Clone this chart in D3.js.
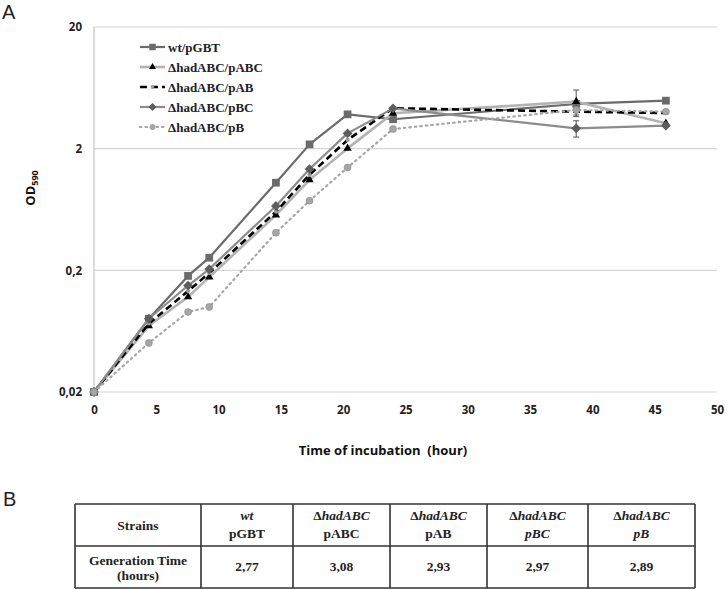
<!DOCTYPE html>
<html>
<head>
<meta charset="utf-8">
<script src="https://cdn.jsdelivr.net/npm/d3@7"></script>
<style>
  html, body { margin: 0; padding: 0; background: #fff; }
  svg { display: block; }
</style>
</head>
<body>
<svg id="chart" width="727" height="590"></svg>
<script>
// ---------- data ----------
const hours = [0, 4.4, 7.55, 9.25, 14.6, 17.3, 20.35, 24, 38.7, 45.9];
const wt_pGBT   = [0.02, 0.080, 0.180, 0.254, 1.05, 2.17, 3.83, 3.49, 4.66, 4.96];
const had_pABC  = [0.02, 0.070, 0.121, 0.176, 0.570, 1.11, 2.01, 3.91, 4.87, 3.23];
const had_pAB   = [0.02, 0.073, 0.135, 0.190, 0.607, 1.22, 2.36, 4.30, 4.03, 3.93];
const had_pBC   = [0.02, 0.080, 0.150, 0.205, 0.676, 1.36, 2.67, 4.29, 2.94, 3.09];
const had_pB    = [0.02, 0.0506, 0.091, 0.100, 0.407, 0.747, 1.40, 2.90, 4.16, 4.03];
// error bars (only visible ones, at 38.7 h)
const err_pABC  = [0, 0, 0, 0, 0, 0, 0, 0, 1.2, 0];
const err_pAB   = [0, 0, 0, 0, 0, 0, 0, 0, 0.25, 0];
const err_pBC   = [0, 0, 0, 0, 0, 0, 0, 0, 0.45, 0];
const seriesNames = ["wt/pGBT", "\u0394hadABC/pABC", "\u0394hadABC/pAB", "\u0394hadABC/pBC", "\u0394hadABC/pB"];
const yTicks = [0.02, 0.2, 2, 20];
const yTickLabels = ["0,02", "0,2", "2", "20"];
const xTicks = [0, 5, 10, 15, 20, 25, 30, 35, 40, 45, 50];

// table
const tableHead1 = ["Strains", "wt", "\u0394hadABC", "\u0394hadABC", "\u0394hadABC", "\u0394hadABC"];
const tableHead2 = ["", "pGBT", "pABC", "pAB", "pBC", "pB"];
const head2Italic = [false, false, false, false, true, true];
const genTimes = ["2,77", "3,08", "2,93", "2,97", "2,89"];

// ---------- styles ----------
const styles = [
  {values: wt_pGBT, err: null,     stroke: "#6b6b6b", width: 2.2, dash: null,  marker: "square",   mfill: "#6b6b6b", msize: 60},
  {values: had_pABC, err: err_pABC, stroke: "#b3b3b3", width: 2.6, dash: null,  marker: "triangle", mfill: "#000",    msize: 30},
  {values: had_pAB, err: err_pAB,  stroke: "#000",    width: 2.6, dash: "7,4", marker: "circle",   mfill: "#9a9a9a", msize: 14},
  {values: had_pBC, err: err_pBC,  stroke: "#8c8c8c", width: 2.2, dash: null,  marker: "diamond",  mfill: "#5e5e5e", msize: 48},
  {values: had_pB,  err: null,     stroke: "#a6a6a6", width: 2.2, dash: "1.5,4", marker: "circle", mfill: "#a6a6a6", msize: 38}
];
const symbolMap = {square: d3.symbolSquare, triangle: d3.symbolTriangle, circle: d3.symbolCircle, diamond: d3.symbolSquare};
const rot = m => m === "diamond" ? " rotate(45)" : "";

const svg = d3.select("#chart");
const x = d3.scaleLinear().domain([0, 50]).range([94, 717]);
const y = d3.scaleLog().domain([0.02, 20]).range([392, 27]);

// panel letters
svg.append("text").attr("x", 2).attr("y", 19).attr("font-family", "Liberation Sans, Arial, sans-serif")
  .attr("font-size", 20).attr("fill", "#222").text("A");
svg.append("text").attr("x", 3).attr("y", 506).attr("font-family", "Liberation Sans, Arial, sans-serif")
  .attr("font-size", 20).attr("fill", "#222").text("B");

// gridlines
svg.append("g").selectAll("line").data(yTicks).join("line")
  .attr("x1", x(0)).attr("x2", x(50))
  .attr("y1", d => y(d)).attr("y2", d => y(d))
  .attr("stroke", "#d6d6d6").attr("stroke-width", 1.2);
// left axis line
svg.append("line").attr("x1", x(0)).attr("x2", x(0)).attr("y1", y(20)).attr("y2", y(0.02))
  .attr("stroke", "#c4c4c4").attr("stroke-width", 1.2);

// y axis ticks labels
const yAxis = d3.axisLeft(y).tickValues(yTicks).tickSize(0).tickPadding(12)
  .tickFormat((d, i) => yTickLabels[i]);
const gy = svg.append("g").attr("transform", `translate(${x(0)},0)`).call(yAxis);
gy.select(".domain").remove();
gy.selectAll("text").attr("font-family", "Open Sans, sans-serif").attr("font-weight", "bold")
  .attr("font-size", 11.5).attr("fill", "#222");

// x axis tick labels
const xAxis = d3.axisBottom(x).tickValues(xTicks).tickSize(0).tickPadding(14).tickFormat(d3.format("d"));
const gx = svg.append("g").attr("transform", `translate(0,${y(0.02)})`).call(xAxis);
gx.select(".domain").remove();
gx.selectAll("text").attr("font-family", "Open Sans, sans-serif").attr("font-weight", "bold")
  .attr("font-size", 11.5).attr("fill", "#222");

// axis titles
svg.append("text").attr("x", 383).attr("y", 455).attr("text-anchor", "middle")
  .attr("font-family", "Open Sans, sans-serif").attr("font-weight", "bold").attr("font-size", 13)
  .attr("fill", "#111").attr("xml:space", "preserve").text("Time of incubation  (hour)");
const yt = svg.append("text").attr("transform", "translate(35,188) rotate(-90)").attr("text-anchor", "middle")
  .attr("font-family", "Open Sans, sans-serif").attr("font-weight", "bold").attr("font-size", 13).attr("fill", "#111");
yt.append("tspan").text("OD");
yt.append("tspan").attr("font-size", 9).attr("dy", 3).text("590");

// series
const line = d3.line().x((d, i) => x(hours[i])).y(d => y(d));
const plot = svg.append("g");
styles.forEach((s, si) => {
  const g = plot.append("g");
  g.append("path").datum(s.values).attr("d", line).attr("fill", "none")
    .attr("stroke", s.stroke).attr("stroke-width", s.width)
    .attr("stroke-dasharray", s.dash).attr("stroke-linecap", s.dash && s.dash.startsWith("1.5") ? "round" : "butt")
    .attr("stroke-linejoin", "round");
  if (s.err) {
    s.values.forEach((v, i) => {
      const e = s.err[i];
      if (!e) return;
      const cx = x(hours[i]);
      const y1 = y(v + e), y2 = y(Math.max(v - e, 0.021));
      g.append("line").attr("x1", cx).attr("x2", cx).attr("y1", y1).attr("y2", y2).attr("stroke", "#555").attr("stroke-width", 1);
      [y1, y2].forEach(yy => g.append("line").attr("x1", cx - 3).attr("x2", cx + 3).attr("y1", yy).attr("y2", yy)
        .attr("stroke", "#555").attr("stroke-width", 1));
    });
  }
  g.selectAll("path.m").data(s.values).join("path").attr("class", "m")
    .attr("transform", (d, i) => `translate(${x(hours[i])},${y(d)})` + rot(s.marker))
    .attr("d", d3.symbol().type(symbolMap[s.marker]).size(s.msize))
    .attr("fill", s.mfill)
    .attr("stroke", si === 4 ? "#8a8a8a" : "none").attr("stroke-width", si === 4 ? 0.6 : 0);
});

// legend
const leg = svg.append("g");
styles.forEach((s, i) => {
  const ly = 47 + i * 20;
  leg.append("line").attr("x1", 140).attr("x2", 165).attr("y1", ly).attr("y2", ly)
    .attr("stroke", s.stroke).attr("stroke-width", s.width).attr("stroke-dasharray", s.dash)
    .attr("stroke-linecap", s.dash && s.dash.startsWith("1.5") ? "round" : "butt");
  leg.append("path").attr("transform", `translate(152.5,${ly})` + rot(s.marker))
    .attr("d", d3.symbol().type(symbolMap[s.marker]).size(s.msize * 0.7)).attr("fill", s.mfill);
  leg.append("text").attr("x", 168).attr("y", ly + 4.5)
    .attr("font-family", "Liberation Serif, Times New Roman, serif").attr("font-weight", "bold")
    .attr("font-size", 13).attr("fill", "#222").text(seriesNames[i]);
});

// ---------- table ----------
const colEdges = [75, 201, 293, 390, 487, 588, 695];
const rowEdges = [504, 546, 588];
const tbl = svg.append("g");
const tfont = "Liberation Serif, Times New Roman, serif";
const fs = 13.5;
tbl.selectAll("line.h").data(rowEdges).join("line").attr("class", "h")
  .attr("x1", colEdges[0]).attr("x2", colEdges[colEdges.length - 1])
  .attr("y1", d => d).attr("y2", d => d).attr("stroke", "#333").attr("stroke-width", 1.6);
tbl.selectAll("line.v").data(colEdges).join("line").attr("class", "v")
  .attr("x1", d => d).attr("x2", d => d)
  .attr("y1", rowEdges[0]).attr("y2", rowEdges[2]).attr("stroke", "#333").attr("stroke-width", 1.6);

const cx = i => (colEdges[i] + colEdges[i + 1]) / 2;
tableHead1.forEach((t, i) => {
  if (i === 0) {
    tbl.append("text").attr("x", cx(0)).attr("y", 530).attr("text-anchor", "middle")
      .attr("font-family", tfont).attr("font-weight", "bold").attr("font-size", fs).attr("fill", "#222").text(t);
    return;
  }
  const tx = tbl.append("text").attr("x", cx(i)).attr("y", 520).attr("text-anchor", "middle")
    .attr("font-family", tfont).attr("font-weight", "bold").attr("font-size", fs).attr("fill", "#222");
  if (t.startsWith("\u0394")) {
    tx.append("tspan").text("\u0394");
    tx.append("tspan").attr("font-style", "italic").text(t.slice(1));
  } else {
    tx.append("tspan").attr("font-style", "italic").text(t);
  }
  tbl.append("text").attr("x", cx(i)).attr("y", 538).attr("text-anchor", "middle")
    .attr("font-family", tfont).attr("font-weight", "bold").attr("font-size", fs).attr("fill", "#222")
    .attr("font-style", head2Italic[i] ? "italic" : "normal").text(tableHead2[i]);
});
tbl.append("text").attr("x", cx(0)).attr("y", 565).attr("text-anchor", "middle")
  .attr("font-family", tfont).attr("font-weight", "bold").attr("font-size", fs).attr("fill", "#222").text("Generation Time");
tbl.append("text").attr("x", cx(0)).attr("y", 580).attr("text-anchor", "middle")
  .attr("font-family", tfont).attr("font-weight", "bold").attr("font-size", fs).attr("fill", "#222").text("(hours)");
genTimes.forEach((g, i) => {
  tbl.append("text").attr("x", cx(i + 1)).attr("y", 571).attr("text-anchor", "middle")
    .attr("font-family", tfont).attr("font-weight", "bold").attr("font-size", fs).attr("fill", "#222").text(g);
});
</script>
</body>
</html>
